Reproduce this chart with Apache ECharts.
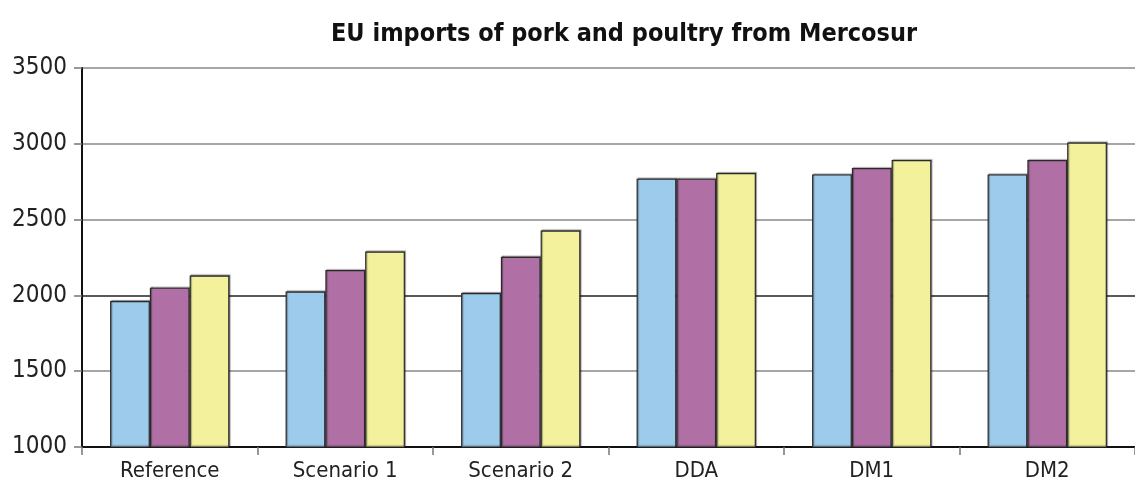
<!DOCTYPE html>
<html>
<head>
<meta charset="utf-8">
<script src="https://cdn.jsdelivr.net/npm/echarts@6/dist/echarts.min.js"></script>
<style>
html,body{margin:0;padding:0;background:#fff;}
#chart{width:1135px;height:482px;}
</style>
</head>
<body>
<div id="chart"></div>
<script>
const categories = ['Reference', 'Scenario 1', 'Scenario 2', 'DDA', 'DM1', 'DM2'];
const seriesA = [1963, 2025, 2016, 2770, 2798, 2798];
const seriesB = [2051, 2168, 2255, 2770, 2840, 2893];
const seriesC = [2131, 2289, 2428, 2807, 2893, 3009];
const yTicks = { min: 1000, max: 3500, interval: 500 };

const FONT = '"DejaVu Sans Condensed", "Liberation Sans Narrow", "Liberation Sans", sans-serif';
const colors = ['#9ccbec', '#b070a6', '#f3f19c'];

const barStyle = (c) => ({
  color: c,
  borderColor: '#2a2a2a',
  borderWidth: 1.2,
  shadowColor: 'rgba(0,0,0,0.35)',
  shadowBlur: 1,
  shadowOffsetX: 1,
  shadowOffsetY: -1
});

const chart = echarts.init(document.getElementById('chart'), null, { renderer: 'canvas' });
chart.setOption({
  animation: false,
  backgroundColor: '#fff',
  title: {
    text: 'EU imports of pork and poultry from Mercosur',
    left: 619,
    textAlign: 'center',
    top: 17,
    textStyle: { fontFamily: FONT, fontWeight: 'bold', fontSize: 25, color: '#111' }
  },
  grid: { left: 82, right: -12, top: 68, bottom: 34, containLabel: false },
  xAxis: {
    type: 'category',
    data: categories,
    axisLine: { lineStyle: { color: '#111', width: 2 } },
    axisTick: { show: true, length: 8, lineStyle: { color: '#777', width: 1.5 } },
    axisLabel: { fontFamily: FONT, fontSize: 22, color: '#222', margin: 13 }
  },
  yAxis: {
    type: 'value',
    min: yTicks.min, max: yTicks.max, interval: yTicks.interval,
    axisLine: { show: true, lineStyle: { color: '#111', width: 2 } },
    axisTick: { show: true, length: 8, lineStyle: { color: '#777', width: 1.5 } },
    axisLabel: { fontFamily: FONT, fontSize: 24, color: '#222', margin: 15, formatter: (v) => String(v) },
    splitLine: { show: true, lineStyle: { color: ['#888', '#888', '#222', '#888', '#888', '#888'], width: 1.5 } }
  },
  series: [
    { type: 'bar', name: 'A', data: seriesA, itemStyle: barStyle(colors[0]), barGap: '0%', barCategoryGap: '32%' },
    { type: 'bar', name: 'B', data: seriesB, itemStyle: barStyle(colors[1]), barGap: '0%', barCategoryGap: '32%' },
    { type: 'bar', name: 'C', data: seriesC, itemStyle: barStyle(colors[2]), barGap: '0%', barCategoryGap: '32%' }
  ]
});
</script>
</body>
</html>
